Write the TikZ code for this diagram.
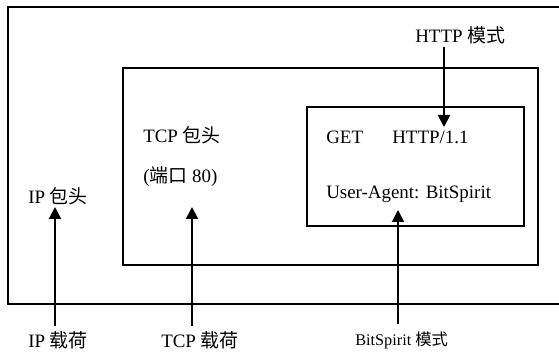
\documentclass[tikz,border=0pt]{standalone}
\usepackage{fontspec}
\setmainfont{Liberation Serif}
\newfontfamily\cjk{Noto Sans CJK SC}
\usetikzlibrary{arrows.meta}
\begin{document}
\begin{tikzpicture}[x=0.75pt,y=-0.75pt,
  box/.style={line width=1.5pt},
  arr/.style={line width=1.5pt,-{Triangle[width=9pt,length=9pt]}},
  txt/.style={inner sep=0pt,anchor=base west,font=\fontsize{14.2pt}{16pt}\selectfont},
  small/.style={inner sep=0pt,anchor=base west,font=\fontsize{12.2pt}{14pt}\selectfont}]
\useasboundingbox[fill=white] (0,0) rectangle (559,352);
% boxes
\draw[box] (559,7) -- (8,7) -- (8,304) -- (559,304);
\draw[box] (123,68) rectangle (538,265);
\draw[box] (307,107) rectangle (524,226);
% texts
\node[txt] (get) at (326,144) {GET};
\node[txt] (http) at (392,144) {HTTP/1.1};
\node[txt] (ua) at (326,199) {User-Agent: BitSpirit};
\node[txt] (tcph) at (143,143) {TCP {\cjk 包头}};
\node[txt] (port) at (143,183) {({\cjk 端口} 80)};
\node[txt] (iph) at (28,204) {IP {\cjk 包头}};
\node[txt] (iplo) at (28,347) {IP {\cjk 载荷}};
\node[txt] (tcplo) at (161,347) {TCP {\cjk 载荷}};
\node[small] (bsm) at (355,345) {BitSpirit {\cjk 模式}};
\node[txt] (httpm) at (415,43) {HTTP {\cjk 模式}};
% arrow ends
\coordinate (a1s) at (55,326); \coordinate (a1e) at (55,207);
\coordinate (a2s) at (192,326); \coordinate (a2e) at (192,207);
\coordinate (a3s) at (398,324); \coordinate (a3e) at (398,210);
\coordinate (a4s) at (444,47); \coordinate (a4e) at (444,127);
\draw[arr] (a1s) -- (a1e);
\draw[arr] (a2s) -- (a2e);
\draw[arr] (a3s) -- (a3e);
\draw[arr] (a4s) -- (a4e);
\end{tikzpicture}
\end{document}
